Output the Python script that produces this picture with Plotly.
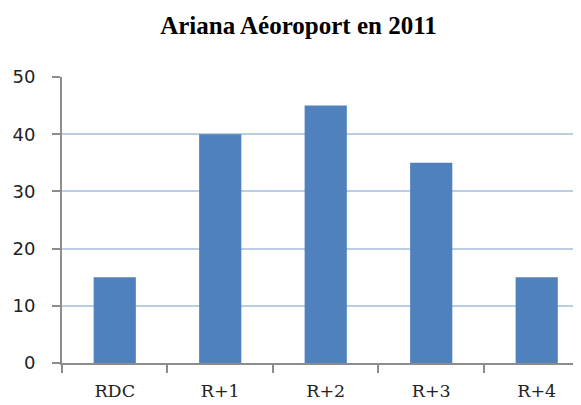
import plotly.graph_objects as go

categories = ["RDC", "R+1", "R+2", "R+3", "R+4"]
values = [15, 40, 45, 35, 15]
y_ticks = [0, 10, 20, 30, 40, 50]

fig = go.Figure(go.Bar(x=categories, y=values, marker=dict(color="#4F81BD", line=dict(width=0)), width=0.4))

title_font = "Liberation Serif"
xfont = "DejaVu Serif"
yfont = "DejaVu Sans"
fig.update_layout(
    width=581, height=405,
    margin=dict(l=54, r=8, t=69, b=50),
    paper_bgcolor="white", plot_bgcolor="white",
    title=dict(text="<b>Ariana Aéoroport en 2011</b>", x=0.5, xanchor="center", y=0.957, yanchor="middle",
               font=dict(family=title_font, size=25, color="black")),
    showlegend=False,
    font=dict(family=xfont, size=17, color="#222222"),
)
fig.update_xaxes(
    range=[-0.5, 4.42], showgrid=False, showline=True, linecolor="#8C8C8C", linewidth=2,
    ticks="outside", tickson="boundaries", ticklen=8, tickcolor="#8C8C8C", tickwidth=1.5,
    tickfont=dict(family=xfont, size=17.5, color="#222222"), ticklabelstandoff=11,
    automargin=False,
)
fig.update_yaxes(
    range=[0, 50], tickvals=y_ticks, showgrid=True, gridcolor="#B9CDE5", gridwidth=1.5,
    zeroline=False, showline=True, linecolor="#8C8C8C", linewidth=2,
    ticks="outside", ticklen=8, tickcolor="#8C8C8C", tickwidth=1.5,
    tickfont=dict(family=yfont, size=18, color="#222222"), ticklabelstandoff=13,
    automargin=False,
)
fig.write_html("out.html")
